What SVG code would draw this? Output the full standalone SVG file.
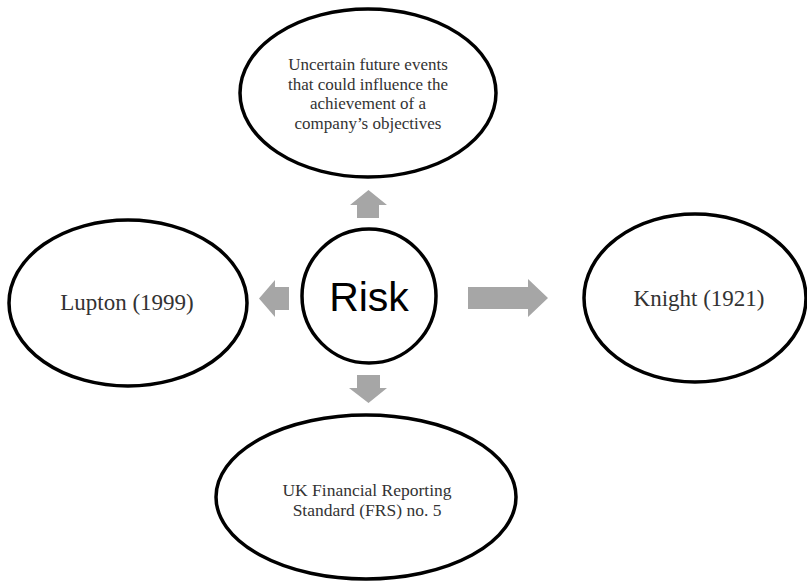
<svg xmlns="http://www.w3.org/2000/svg" width="807" height="581" viewBox="0 0 807 581">
<style>
.node{fill:#fff;stroke:#000;stroke-width:3.5}
.t{font-family:"Liberation Serif","Times New Roman",serif;fill:#333;text-anchor:middle}
.arr{fill:#a6a6a6}
</style>
<rect width="807" height="581" fill="#fff"/>
<g id="connectors">
<polygon class="arr" points="357,218 357,205 350,205 368.5,190 387,205 379,205 379,218"/>
<polygon class="arr" points="289,287 275,287 275,280 259,298.5 275,317 275,310 289,310"/>
<polygon class="arr" points="468,287 528,287 528,279 548,298 528,317 528,309 468,309"/>
<polygon class="arr" points="357,375 380,375 380,388 387,388 368.5,403 349,388 357,388"/>
</g>
<g id="risk">
<circle class="node" cx="369" cy="296" r="67"/>
<text x="369" y="311" font-family="Liberation Sans, Arial, sans-serif" font-size="41" fill="#000" text-anchor="middle">Risk</text>
</g>
<g id="uncertain">
<ellipse class="node" cx="368" cy="93" rx="128" ry="84"/>
<text class="t" font-size="17"><tspan x="368" y="70">Uncertain future events</tspan><tspan x="368" y="89.5">that could influence the</tspan><tspan x="368" y="109">achievement of a</tspan><tspan x="368" y="128.5">company’s objectives</tspan></text>
</g>
<g id="lupton">
<ellipse class="node" cx="128" cy="303" rx="119" ry="83"/>
<text class="t" x="127" y="310" font-size="23">Lupton (1999)</text>
</g>
<g id="knight">
<ellipse class="node" cx="695" cy="298" rx="111" ry="84"/>
<text class="t" x="699" y="306" font-size="23">Knight (1921)</text>
</g>
<g id="frs">
<ellipse class="node" cx="366" cy="497" rx="150" ry="82"/>
<text class="t" font-size="17.5"><tspan x="367" y="496">UK Financial Reporting</tspan><tspan x="367" y="516">Standard (FRS) no. 5</tspan></text>
</g>
</svg>
